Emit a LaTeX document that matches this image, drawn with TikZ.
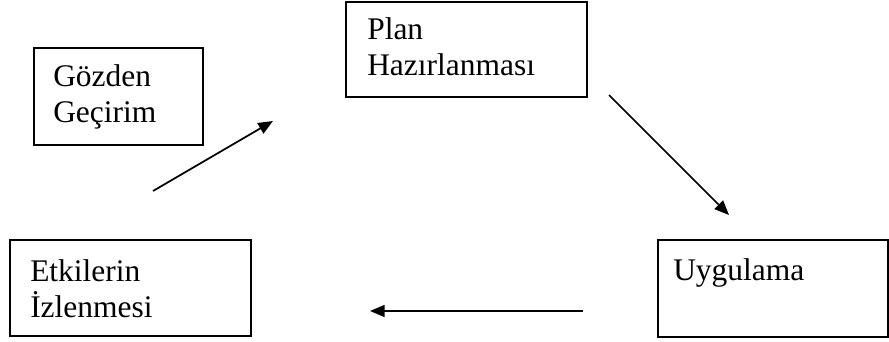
\documentclass[tikz,border=0pt]{standalone}
\usepackage{fontspec}
\setmainfont{Liberation Serif}
\usetikzlibrary{arrows.meta}

\tikzset{
  stage/.style={draw, line width=1.5pt, anchor=north west, inner sep=0pt},
  stagetext/.style={anchor=base west, align=left, inner sep=0pt,
    font=\fontsize{23.6}{27}\selectfont},
  flow/.style={line width=1.3pt, -{Triangle[length=11pt,width=9pt]}}
}

\begin{document}
\begin{tikzpicture}[x=0.75pt,y=-0.75pt]
\useasboundingbox (0,0) rectangle (889,342);
% boxes
\node[stage, minimum width=126.75pt, minimum height=72.75pt] (gozden) at (33,47) {};
\node[stage, minimum width=180.75pt, minimum height=71.25pt] (plan) at (345,1) {};
\node[stage, minimum width=172.5pt, minimum height=72.75pt] (uygulama) at (657,239) {};
\node[stage, minimum width=180.75pt, minimum height=72pt] (etkiler) at (9,239) {};
% texts (base = last line)
\node[stagetext] (gozdenText) at (53,123) {Gözden\\Geçirim};
\node[stagetext] (planText) at (367,76) {Plan\\Hazırlanması};
\node[stagetext] (uygulamaText) at (673,280) {Uygulama};
\node[stagetext] (etkilerText) at (30,317) {Etkilerin\\İzlenmesi};
% arrows of the cycle
\coordinate (c1) at (153,191);
\coordinate (c2) at (273,121);
\coordinate (c3) at (609,95);
\coordinate (c4) at (729,215);
\coordinate (c5) at (583,311);
\coordinate (c6) at (370,311);
\draw[flow] (c1) -- (c2);
\draw[flow] (c3) -- (c4);
\draw[flow] (c5) -- (c6);
\end{tikzpicture}
\end{document}
